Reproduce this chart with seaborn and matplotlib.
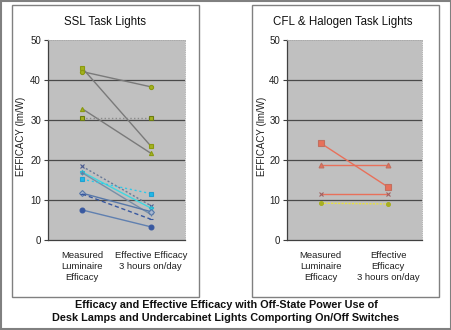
import matplotlib
matplotlib.use("Agg")
import matplotlib.pyplot as plt
import seaborn as sns
import pandas as pd
from matplotlib.patches import Rectangle

sns.set_style("white")
plt.rcParams['font.family'] = ['Liberation Sans', 'DejaVu Sans']

# ---- data ----
categories_ssl = ["Measured\nLuminaire\nEfficacy", "Effective Efficacy\n3 hours on/day"]
categories_cfl = ["Measured\nLuminaire\nEfficacy", "Effective\nEfficacy\n3 hours on/day"]

ssl_names = ["S1", "S2", "S3", "S4", "S5", "S6", "S7", "S8", "S9", "S10", "S11"]
ssl_measured = [43.0, 42.1, 32.8, 30.5, 18.4, 17.0, 16.8, 15.2, 11.7, 11.5, 7.5]
ssl_effective = [23.5, 38.3, 21.7, 30.5, 8.6, 8.0, 6.4, 11.6, 7.1, 5.2, 3.3]

cfl_names = ["C1", "C2", "C3", "C4"]
cfl_measured = [24.2, 18.7, 11.5, 9.2]
cfl_effective = [13.2, 18.7, 11.5, 9.0]

y_ticks = [0, 10, 20, 30, 40, 50]

# ---- styles ----
ssl_styles = [
    dict(color="#7a7a7a", marker="s", mfc="#a4b21e", mec="#8a9a10", ls="-", ms=3),
    dict(color="#7a7a7a", marker="o", mfc="#a4b21e", mec="#8a9a10", ls="-", ms=3),
    dict(color="#7a7a7a", marker="^", mfc="#a4b21e", mec="#8a9a10", ls="-", ms=3),
    dict(color="#8a8a8a", marker="s", mfc="#a4b21e", mec="#6a7a10", ls=":", ms=3.5),
    dict(color="#6a7a98", marker="x", mfc="#4a5a90", mec="#4a5a90", ls=(0, (1.5, 1.5)), ms=3),
    dict(color="#40d8e0", marker="*", mfc="#40d8e0", mec="#30b8d0", ls="-", ms=3.5),
    dict(color="#7890a8", marker="+", mfc="#6080a8", mec="#6080a8", ls="-", ms=3),
    dict(color="#30c8e8", marker="s", mfc="#20b8e8", mec="#20a0d0", ls=(0, (1.5, 2)), ms=3.5),
    dict(color="#5878a8", marker="D", mfc="#a8b8d0", mec="#5878a8", ls="-", ms=3),
    dict(color="#3858a0", marker="_", mfc="#3858a0", mec="#3858a0", ls=(0, (3, 2)), ms=3.5),
    dict(color="#6080b0", marker="o", mfc="#3858a0", mec="#3858a0", ls="-", ms=3.5),
]
cfl_styles = [
    dict(color="#e8705a", marker="s", mfc="#e8705a", mec="#c07060", ls="-", ms=4),
    dict(color="#e8705a", marker="^", mfc="#e8705a", mec="#c07060", ls="-", ms=3.5),
    dict(color="#e8705a", marker="x", mfc="#e8705a", mec="#a06060", ls="-", ms=3.5),
    dict(color="#e8e040", marker="o", mfc="#a8b020", mec="#a8b020", ls=(0, (1.5, 1)), ms=2.8),
]

fig = plt.figure(figsize=(4.52, 3.30), dpi=100)
W, H = 452.0, 330.0

def fx(x):
    return x / W

def fy(y):
    return 1 - y / H

# figure border and panel boxes
fig.patches.append(Rectangle((0.002, 0.003), 0.996, 0.994, transform=fig.transFigure,
                             fill=False, edgecolor="#808080", linewidth=1.5))
for x0, x1 in [(12, 199), (252, 439)]:
    fig.patches.append(Rectangle((fx(x0), fy(297)), fx(x1) - fx(x0), fy(5) - fy(297),
                                 transform=fig.transFigure, fill=False,
                                 edgecolor="#808080", linewidth=1.0))

def make_panel(left_px, right_px, title, title_x, cats, names, meas, eff, styles, ylab_x):
    ax = fig.add_axes([fx(left_px), fy(240), fx(right_px) - fx(left_px), fy(40) - fy(240)])
    ax.set_facecolor("#c0c0c0")
    rows = []
    for n, a, b in zip(names, meas, eff):
        rows.append(dict(series=n, pos=0, value=a))
        rows.append(dict(series=n, pos=1, value=b))
    df = pd.DataFrame(rows)
    for n, st in zip(names, styles):
        sub = df[df.series == n]
        sns.lineplot(data=sub, x="pos", y="value", ax=ax, color=st["color"],
                     linestyle=st["ls"], linewidth=1.0, marker=st["marker"],
                     markersize=st["ms"], markerfacecolor=st["mfc"],
                     markeredgecolor=st["mec"], markeredgewidth=0.8,
                     legend=False, zorder=3)
    ax.set_xlim(-0.5, 1.5)
    ax.set_ylim(0, 50)
    ax.set_yticks(y_ticks)
    ax.set_yticklabels([str(t) for t in y_ticks], fontsize=7, color="#202020")
    for t in y_ticks[1:-1]:
        ax.axhline(t, color="#4a4a4a", linewidth=0.9, zorder=1)
    ax.set_xticks([0, 1])
    ax.set_xticklabels(cats, fontsize=6.8, color="#202020", linespacing=1.3)
    ax.set_xticks([-0.5, 0.5, 1.5], minor=True)
    ax.tick_params(axis="x", which="major", length=0, pad=8)
    ax.tick_params(axis="x", which="minor", length=3, color="#404040", width=0.8)
    ax.tick_params(axis="y", which="major", length=3, color="#404040", width=0.8, pad=2, left=True)
    ax.set_xlabel("")
    ax.set_ylabel("")
    for s in ["left", "bottom"]:
        ax.spines[s].set_color("#404040")
        ax.spines[s].set_linewidth(0.9)
    for s in ["top", "right"]:
        ax.spines[s].set_color("#a8a8a8")
        ax.spines[s].set_linewidth(0.6)
        ax.spines[s].set_linestyle(":")
    fig.text(fx(title_x), fy(22), title, ha="center", va="center", fontsize=8.3, color="#101010")
    fig.text(fx(ylab_x), fy(136), "EFFICACY (lm/W)", rotation=90, ha="center", va="center",
             fontsize=7, color="#202020")
    return ax

make_panel(48, 185, "SSL Task Lights", 105, categories_ssl, ssl_names,
           ssl_measured, ssl_effective, ssl_styles, 21)
make_panel(287, 422, "CFL & Halogen Task Lights", 343, categories_cfl, cfl_names,
           cfl_measured, cfl_effective, cfl_styles, 262)

fig.text(0.5, fy(305), "Efficacy and Effective Efficacy with Off-State Power Use of",
         ha="center", va="center", fontsize=7.8, fontweight="bold", color="#101010")
fig.text(0.5, fy(318), "Desk Lamps and Undercabinet Lights Comporting On/Off Switches",
         ha="center", va="center", fontsize=7.8, fontweight="bold", color="#101010")

fig.savefig("out.png", dpi=100)
